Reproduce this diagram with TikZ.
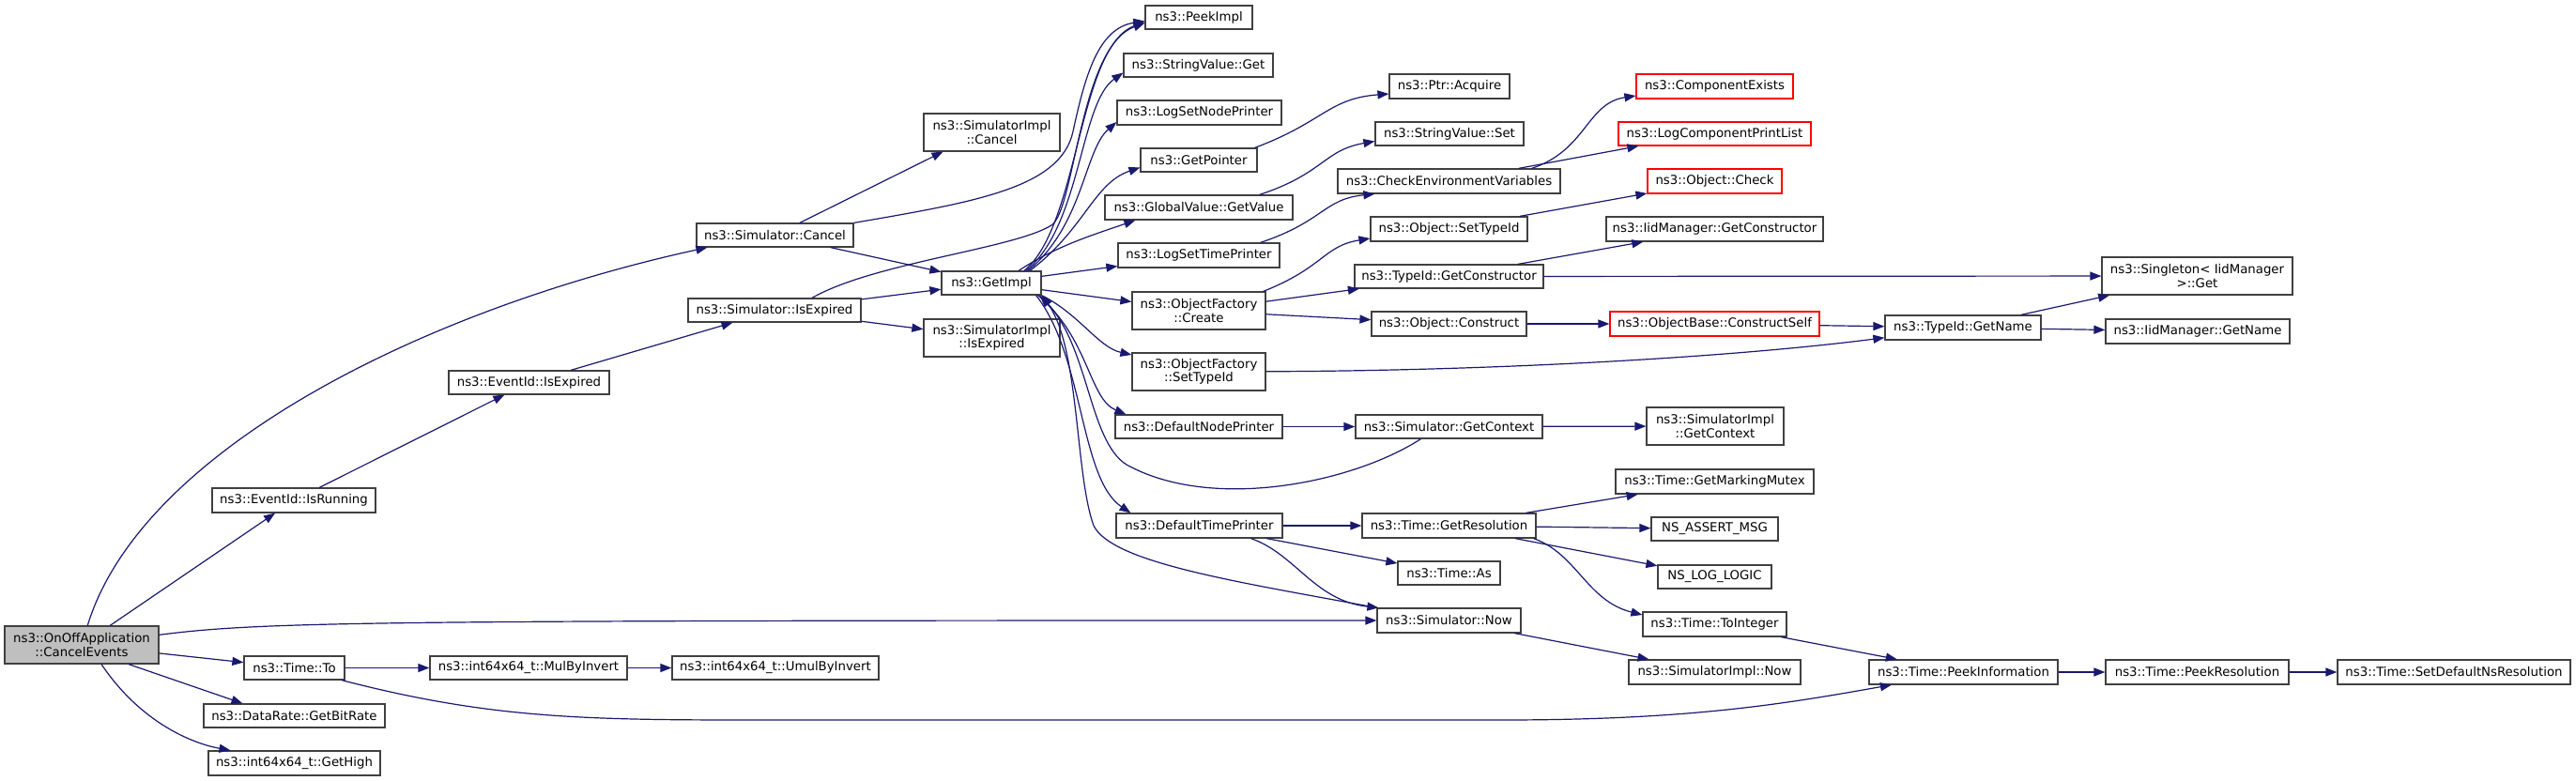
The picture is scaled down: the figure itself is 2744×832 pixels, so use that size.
\documentclass[tikz,border=0pt]{standalone}
\usepackage{fontspec}
\setmainfont{DejaVu Sans}
\usetikzlibrary{arrows.meta,calc}
\definecolor{edgeblue}{HTML}{191970}
\definecolor{boxgray}{HTML}{404040}
\definecolor{rootfill}{HTML}{BFBFBF}
\begin{document}
\begin{tikzpicture}[x=1pt,y=-1pt,
  fn/.style={draw=boxgray, line width=1.2pt, fill=white, inner sep=1pt, align=center,
    font=\fontsize{13.3pt}{14.3pt}\selectfont, text=black},
  rn/.style={fn, draw=red},
  cline/.style={draw=edgeblue, line width=1.2pt, -{Triangle[length=12pt,width=9pt]}}]
\path[use as bounding box, fill=white] (0,0) rectangle (2744,832);
% rank 0..2
\node[fn, fill=rootfill, minimum width=164pt, minimum height=40pt] (root) at (87,687) {ns3::OnOffApplication\\::CancelEvents};
\node[fn, minimum width=174pt, minimum height=26pt] (evisrun) at (313,533) {ns3::EventId::IsRunning};
\node[fn, minimum width=107pt, minimum height=25pt] (timeto) at (313.5,711.5) {ns3::Time::To};
\node[fn, minimum width=193pt, minimum height=25pt] (getbitrate) at (313.5,762.5) {ns3::DataRate::GetBitRate};
\node[fn, minimum width=183pt, minimum height=26pt] (gethigh) at (313.5,813) {ns3::int64x64\_t::GetHigh};
\node[fn, minimum width=171pt, minimum height=25pt] (evisexp) at (563.5,407.5) {ns3::EventId::IsExpired};
\node[fn, minimum width=210pt, minimum height=25pt] (mulbyinv) at (563,711.5) {ns3::int64x64\_t::MulByInvert};
\node[fn, minimum width=167pt, minimum height=25pt] (simcancel) at (825.5,250.5) {ns3::Simulator::Cancel};
\node[fn, minimum width=184pt, minimum height=25pt] (simisexp) at (825,330.5) {ns3::Simulator::IsExpired};
\node[fn, minimum width=220pt, minimum height=25pt] (umulbyinv) at (826,711.5) {ns3::int64x64\_t::UmulByInvert};
% rank 3
\node[fn, minimum width=145pt, minimum height=40pt] (simimplcancel) at (1056.5,141) {ns3::SimulatorImpl\\::Cancel};
\node[fn, minimum width=145pt, minimum height=40pt] (simimplisexp) at (1056.5,360) {ns3::SimulatorImpl\\::IsExpired};
\node[fn, minimum width=106pt, minimum height=25pt] (getimpl) at (1056,301.5) {ns3::GetImpl};
% rank 4
\node[fn, minimum width=114pt, minimum height=25pt] (peekimpl) at (1277,18.5) {ns3::PeekImpl};
\node[fn, minimum width=159pt, minimum height=25pt] (strget) at (1276.5,69.5) {ns3::StringValue::Get};
\node[fn, minimum width=175pt, minimum height=26pt] (lognode) at (1277.5,120) {ns3::LogSetNodePrinter};
\node[fn, minimum width=124pt, minimum height=25pt] (getpointer) at (1277,170.5) {ns3::GetPointer};
\node[fn, minimum width=200pt, minimum height=26pt] (gvget) at (1277,221) {ns3::GlobalValue::GetValue};
\node[fn, minimum width=172pt, minimum height=26pt] (logtime) at (1277,272) {ns3::LogSetTimePrinter};
\node[fn, minimum width=142pt, minimum height=40pt] (ofcreate) at (1277,331) {ns3::ObjectFactory\\::Create};
\node[fn, minimum width=142pt, minimum height=40pt] (ofsettype) at (1277,396) {ns3::ObjectFactory\\::SetTypeId};
\node[fn, minimum width=178pt, minimum height=25pt] (defnode) at (1277,454.5) {ns3::DefaultNodePrinter};
\node[fn, minimum width=177pt, minimum height=26pt] (deftime) at (1277.5,560) {ns3::DefaultTimePrinter};
% rank 5
\node[fn, minimum width=128pt, minimum height=26pt] (ptracq) at (1544,92) {ns3::Ptr::Acquire};
\node[fn, minimum width=158pt, minimum height=25pt] (strset) at (1544,142.5) {ns3::StringValue::Set};
\node[fn, minimum width=237pt, minimum height=26pt] (checkenv) at (1543.5,193) {ns3::CheckEnvironmentVariables};
\node[fn, minimum width=167pt, minimum height=26pt] (objsettype) at (1543.5,244) {ns3::Object::SetTypeId};
\node[fn, minimum width=201pt, minimum height=25pt] (getctor) at (1543.5,294.5) {ns3::TypeId::GetConstructor};
\node[fn, minimum width=165pt, minimum height=26pt] (objconstruct) at (1543.5,345) {ns3::Object::Construct};
\node[fn, minimum width=199pt, minimum height=25pt] (simgetctx) at (1543.5,454.5) {ns3::Simulator::GetContext};
\node[fn, minimum width=185pt, minimum height=26pt] (getres) at (1543.5,560) {ns3::Time::GetResolution};
\node[fn, minimum width=109pt, minimum height=25pt] (timeas) at (1543.5,610.5) {ns3::Time::As};
\node[fn, minimum width=153pt, minimum height=26pt] (simnow) at (1543.5,661) {ns3::Simulator::Now};
% rank 6
\node[rn, minimum width=167pt, minimum height=26pt] (compexists) at (1826.5,92) {ns3::ComponentExists};
\node[rn, minimum width=205pt, minimum height=25pt] (logcomp) at (1826.5,142.5) {ns3::LogComponentPrintList};
\node[rn, minimum width=143pt, minimum height=26pt] (objcheck) at (1826.5,193) {ns3::Object::Check};
\node[fn, minimum width=231pt, minimum height=26pt] (iidgetctor) at (1826.5,244) {ns3::IidManager::GetConstructor};
\node[rn, minimum width=223pt, minimum height=26pt] (constructself) at (1826.5,345) {ns3::ObjectBase::ConstructSelf};
\node[fn, minimum width=146pt, minimum height=40pt] (implgetctx) at (1827,454) {ns3::SimulatorImpl\\::GetContext};
\node[fn, minimum width=211pt, minimum height=26pt] (markmutex) at (1826.5,513) {ns3::Time::GetMarkingMutex};
\node[fn, minimum width=135pt, minimum height=25pt] (assertmsg) at (1826.5,563.5) {NS\_ASSERT\_MSG};
\node[fn, minimum width=121pt, minimum height=25pt] (loglogic) at (1826.5,614.5) {NS\_LOG\_LOGIC};
\node[fn, minimum width=153pt, minimum height=26pt] (tointeger) at (1826.5,665) {ns3::Time::ToInteger};
\node[fn, minimum width=183pt, minimum height=26pt] (implnow) at (1826.5,716) {ns3::SimulatorImpl::Now};
% rank 7..9
\node[fn, minimum width=166pt, minimum height=26pt] (getname) at (2091,349) {ns3::TypeId::GetName};
\node[fn, minimum width=201pt, minimum height=26pt] (peekinfo) at (2091.5,716) {ns3::Time::PeekInformation};
\node[fn, minimum width=203pt, minimum height=40pt] (singleton) at (2340.5,294) {ns3::Singleton< IidManager\\ >::Get};
\node[fn, minimum width=196pt, minimum height=26pt] (iidgetname) at (2341,353) {ns3::IidManager::GetName};
\node[fn, minimum width=195pt, minimum height=26pt] (peekres) at (2340.5,716) {ns3::Time::PeekResolution};
\node[fn, minimum width=248pt, minimum height=26pt] (setdefns) at (2614,716) {ns3::Time::SetDefaultNsResolution};
% edges from root
\draw[cline] (root) .. controls (150,480) and (450,330) .. ($(simcancel.south west)+(12,0)$);
\draw[cline] (root) -- (evisrun);
\draw[cline] (root) .. controls (280,662) and (400,661) .. (simnow);
\draw[cline] (root) -- (timeto);
\draw[cline] ($(root.south)+(50,0)$) -- ($(getbitrate.north)+(-55,0)$);
\draw[cline] ($(root.south)+(21,0)$) .. controls (150,770) and (205,792) .. ($(gethigh.north)+(-68,0)$);
\draw[cline] (evisrun) -- (evisexp);
\draw[cline] (evisexp) -- (simisexp);
\draw[cline] (simcancel) -- ($(simimplcancel.south)+(-52,0)$);
\draw[cline] (simcancel) -- (getimpl);
\draw[cline] (simcancel.north east) .. controls (1040,215) and (1130,200) .. (1143,140) .. controls (1156,80) and (1170,30) .. ($(peekimpl.west)+(0,4)$);
\draw[cline] (simisexp) -- (getimpl);
\draw[cline] (simisexp) -- (simimplisexp);
\draw[cline] ($(simisexp.north)+(40,0)$) .. controls (930,280) and (1080,265) .. (1120,240) .. controls (1145,224) and (1150,50) .. ($(peekimpl.west)+(0,6)$);
% GetImpl fan-out
\draw[cline] ($(getimpl.north)+(35,0)$) .. controls (1150,240) and (1148,50) .. ($(peekimpl.west)+(0,5)$);
\draw[cline] ($(getimpl.north)+(37,0)$) .. controls (1152,240) and (1150,110) .. ($(strget.west)+(0,8)$);
\draw[cline] ($(getimpl.north)+(39,0)$) .. controls (1154,240) and (1155,160) .. ($(lognode.west)+(0,10)$);
\draw[cline] ($(getimpl.north)+(41,0)$) .. controls (1155,245) and (1165,195) .. ($(getpointer.west)+(0,8)$);
\draw[cline] ($(getimpl.north)+(29,0)$) .. controls (1125,262) and (1165,250) .. ($(gvget.south west)+(33,0)$);
\draw[cline] (getimpl) -- (logtime);
\draw[cline] (getimpl) -- (ofcreate);
\draw[cline] (getimpl.south east) .. controls (1150,335) and (1170,370) .. ($(ofsettype.west)+(0,-18)$);
\draw[cline] ($(getimpl.south east)+(-4,0)$) .. controls (1160,360) and (1160,425) .. ($(defnode.north west)+(12,0)$);
\draw[cline] ($(getimpl.south east)+(-6,0)$) .. controls (1155,380) and (1150,510) .. ($(deftime.north west)+(16,0)$);
\draw[cline] (simnow.north west) .. controls (1320,620) and (1185,600) .. (1165,560) .. controls (1145,505) and (1150,370) .. (getimpl.south east);
\draw[cline] ($(simgetctx.south)+(-30,0)$) .. controls (1440,515) and (1290,545) .. (1200,495) .. controls (1160,470) and (1160,370) .. ($(getimpl.south east)+(-2,0)$);
% rank 4 -> 5
\draw[cline] ($(getpointer.north east)+(-3,0)$) .. controls (1410,130) and (1415,105) .. ($(ptracq.west)+(0,8)$);
\draw[cline] ($(gvget.north east)+(-36,0)$) .. controls (1410,185) and (1410,160) .. ($(strset.west)+(0,8)$);
\draw[cline] ($(logtime.north east)+(-21,0)$) .. controls (1410,236) and (1410,212) .. ($(checkenv.south west)+(40,0)$);
\draw[cline] ($(ofcreate.north east)+(-3,0)$) .. controls (1410,285) and (1410,262) .. ($(objsettype.west)+(0,10)$);
\draw[cline] (ofcreate) -- (getctor);
\draw[cline] (ofcreate) -- (objconstruct);
\draw[cline] (ofsettype) .. controls (1600,395) and (1850,380) .. (getname);
\draw[cline] (defnode) -- (simgetctx);
\draw[cline] (deftime) -- (getres);
\draw[cline] (deftime) -- (timeas);
\draw[cline] ($(deftime.south)+(55,0)$) .. controls (1380,590) and (1400,640) .. ($(simnow.north west)+(2,0)$);
% rank 5 -> 6
\draw[cline] ($(checkenv.north east)+(-31,0)$) .. controls (1690,160) and (1690,110) .. ($(compexists.west)+(0,10)$);
\draw[cline] ($(checkenv.north east)+(-45,0)$) -- ($(logcomp.south west)+(22,0)$);
\draw[cline] (objsettype) -- (objcheck);
\draw[cline] (getctor) -- (iidgetctor);
\draw[cline] (getctor) -- (singleton);
\draw[cline] (objconstruct) -- (constructself);
\draw[cline] (simgetctx) -- (implgetctx);
\draw[cline] (getres) -- (markmutex);
\draw[cline] (getres) -- (assertmsg);
\draw[cline] (getres) -- (loglogic);
\draw[cline] ($(getres.south)+(90,0)$) .. controls (1680,590) and (1690,640) .. ($(tointeger.west)+(0,-10)$);
\draw[cline] (simnow) -- (implnow);
% later ranks
\draw[cline] (constructself) -- (getname);
\draw[cline] (getname) -- (singleton);
\draw[cline] (getname) -- (iidgetname);
\draw[cline] (tointeger) -- (peekinfo);
\draw[cline] (timeto) -- (mulbyinv);
\draw[cline] (mulbyinv) -- (umulbyinv);
\draw[cline] (timeto) .. controls (520,765) and (620,767) .. (800,767) -- (1600,767) .. controls (1800,767) and (1900,750) .. (peekinfo);
\draw[cline] (peekinfo) -- (peekres);
\draw[cline] (peekres) -- (setdefns);
\end{tikzpicture}
\end{document}
